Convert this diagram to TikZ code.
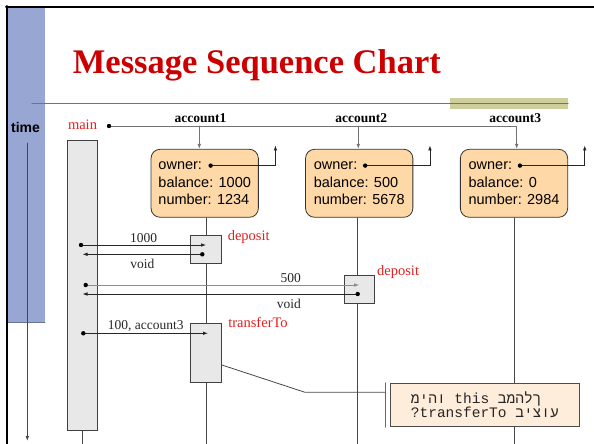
\documentclass[tikz,border=0pt]{standalone}
\usepackage{fontspec}
\setmainfont{Liberation Serif}
\setsansfont{Liberation Sans}
\newfontfamily\hebmono[Script=Hebrew]{Liberation Mono}
\usepackage{tikz}
\usetikzlibrary{calc}
\usetikzlibrary{arrows.meta}
\usetikzlibrary{positioning}
\makeatletter
\newcommand\ltrletters[1]{\@tfor\ltr@c:=#1\do{\hbox{\ltr@c}}}
\makeatother

\begin{document}
\begin{tikzpicture}
			[x=1pt,y=-1pt,line cap=round,line width=0.8pt,
			%Styles
			slide/.style=,
			frame line/.style={line width=2pt,black},
			title text/.style={text=titlered,font=\bfseries\fontsize{34.5}{40}\selectfont,inner sep=0pt},
			obj box/.style={draw=black!80,fill=objfill,rounded corners=9pt,minimum width=107.3pt,minimum height=68pt,align=left,inner sep=0pt,font=\sffamily\fontsize{14.5}{17.6}\selectfont},
			obj name/.style={font=\bfseries\fontsize{13.5}{16}\selectfont,inner sep=0pt},
			act box/.style={draw=black!75,fill=actfill,inner sep=0pt},
			method/.style={text=labelred,font=\fontsize{14.5}{17}\selectfont,inner sep=0pt,anchor=base west},
			msg/.style={-{Latex[length=5pt,width=3.6pt]},black!85},
			msg text/.style={font=\fontsize{13.5}{16}\selectfont,inner sep=0pt,text=black!85},
			life/.style={black!72},
			top line/.style={-{Latex[length=5pt,width=3.6pt]},black!55},
			note box/.style={draw=black!70,fill=notefill,minimum width=188.3pt,minimum height=43.4pt,align=left,inner sep=0pt,text=black!85,font=\hebmono\fontsize{14.5}{14.3}\selectfont}
			]
			
			%Colors
			\definecolor{barblue}{RGB}{151,166,210}
			\definecolor{olivebar}{RGB}{206,206,156}
			\definecolor{rulecol}{RGB}{110,110,150}
			\definecolor{titlered}{RGB}{204,0,0}
			\definecolor{labelred}{RGB}{226,32,32}
			\definecolor{objfill}{RGB}{255,216,168}
			\definecolor{notefill}{RGB}{255,237,220}
			\definecolor{actfill}{RGB}{232,232,232}
			
			\useasboundingbox (0,0) rectangle (594,444);
			
			%The slide
			\begin{scope}[slide]
				\fill[barblue] (8,8) rectangle (45,322);
				\draw[barblue!70!black] (8,322) -- (45,322);
				\fill[olivebar] (450,98) rectangle (568,109);
				\draw[rulecol,line width=1.2pt] (32,103.3) -- (568,103.3);
				\draw[frame line] (6,7) -- (594,7);
				\draw[frame line] (7,6) -- (7,444);
			\end{scope}
			
			\node[title text,anchor=base west] (title) at (72.5,73.3) {Message Sequence Chart};
			
			%Time axis
			\node[font=\sffamily\bfseries\fontsize{14}{16}\selectfont,inner sep=0pt] (time) at (25.5,127) {time};
			\coordinate (timetop) at (27.3,143);
			\coordinate (timeend) at (27.3,441);
			\draw[msg,life] (timetop) -- (timeend);
			
			%Objects
			\coordinate (bottom) at (0,445);
			\node[method,anchor=base] (mainname) at (82.5,129) {main};
			\coordinate (maindot) at (109,126);
			\node[act box,minimum width=30.4pt,minimum height=290.7pt] (mainbar) at (82.5,285.3) {};
			\draw[life] (mainbar.south) -- (mainbar.south |- bottom);
			
			\foreach \i/\cx/\bal/\num in {1/204.7/1000/1234,2/359.2/500/5678,3/514/0/2984}
				\node[obj box] (acc\i) at (\cx,183.3) {owner:\\balance: \bal\\number: \num};
			\node[obj name] (acc1name) at (200.5,117.7) {account1};
			\node[obj name] (acc2name) at (361.3,117.7) {account2};
			\node[obj name] (acc3name) at (515.3,117.7) {account3};
			
			\coordinate (j1) at (199.3,126);
			\coordinate (j2) at (358.3,126);
			\coordinate (j3) at (516.7,126);
			\draw[top line] (maindot) -| (j3 |- acc3.north);
			\draw[top line] (j1) -- (j1 |- acc1.north);
			\draw[top line] (j2) -- (j2 |- acc2.north);
			
			\foreach \i in {1,2,3}{
				\coordinate (own\i) at ($(acc\i.north west)+(60,16.7)$);
				\coordinate (ptr\i) at ($(acc\i.north east)+(16.7,-3.5)$);
				\draw[msg] (own\i) -| (ptr\i);
				\fill (own\i) circle (2.2pt);
			}
			
			%Lifelines
			\draw[life] ([xshift=2pt]acc1.south) -- ([xshift=2pt]acc1.south |- bottom);
			\draw[life] ([xshift=-1.5pt]acc2.south) -- ([xshift=-1.5pt]acc2.south |- bottom);
			\draw[life] ([xshift=0.3pt]acc3.south) -- ([xshift=0.3pt]acc3.south |- bottom);
			
			\node[act box,minimum width=31pt,minimum height=28.3pt] (dep1) at (206,249.2) {};
			\node[act box,minimum width=30.3pt,minimum height=28.3pt] (dep2) at (359.2,289.2) {};
			\node[act box,minimum width=31pt,minimum height=59pt] (trans) at (206,352.8) {};
			\node[method] (dep1name) at ($(dep1.north east)+(5.5,5.5)$) {deposit};
			\node[method] (dep2name) at ($(dep2.north east)+(2,0.5)$) {deposit};
			\node[method] (transname) at ($(trans.north east)+(6,5)$) {transferTo};
			
			%Messages
			\coordinate (m1s) at (81,245);
			\coordinate (r1s) at (202.3,254.3);
			\coordinate (m2s) at (85.7,285);
			\coordinate (r2s) at (357.7,294);
			\coordinate (m3s) at (83.3,333.3);
			\draw[msg] (m1s) -- node[msg text,above=1.7pt] {1000} (m1s -| dep1);
			\draw[msg] (r1s) -- node[msg text,below=4.7pt] {void} (r1s -| mainbar);
			\draw[msg,black!45] (m2s) -- node[msg text,above=1.7pt,pos=0.75] {500} (m2s -| dep2);
			\draw[msg] (r2s) -- node[msg text,below=4.7pt,pos=0.25] {void} (r2s -| mainbar);
			\draw[msg] (m3s) -- node[msg text,above=1.7pt] {100, account3} ([xshift=2pt]m3s -| trans);
			\foreach \p in {maindot,m1s,r1s,m2s,r2s,m3s}
				\fill (\p) circle (2.2pt);
			
			%Note
			\node[note box] (note) at (484.9,405) {\ltrletters{מיהו} this \ltrletters{במהלך}\\?transferTo \ltrletters{ביצוע}};
			\coordinate (tk) at ($(trans.east)+(0,12.2)$);
			\coordinate (bend) at (305,392.3);
			\coordinate (notebar) at ($(note.north west)+(-5,0)$);
			\draw[life] (tk) -- (bend) -- (bend -| notebar);
			\draw[black!60,line width=1.2pt] (notebar) -- (notebar |- note.south);
		\end{tikzpicture}
\end{document}
